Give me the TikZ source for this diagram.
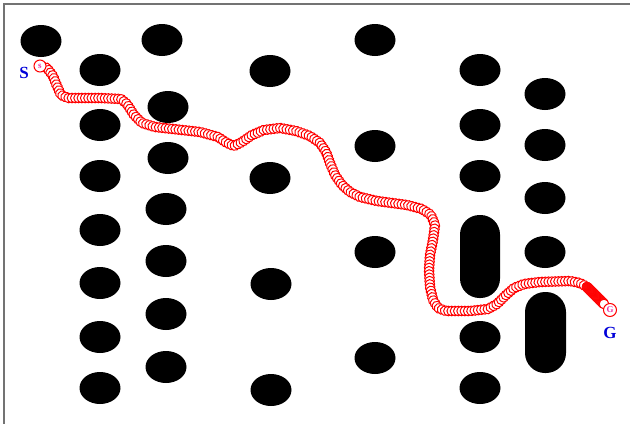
\documentclass[tikz,border=0pt]{standalone}
\usepackage{fontspec}
\setmainfont{Liberation Serif}
\usetikzlibrary{decorations.markings}
\begin{document}
\begin{tikzpicture}[x=1pt,y=-1pt,
  obst/.style={fill=black},
  ring/.style={draw=red, fill=white, line width=1pt},
  trail/.style={postaction={decorate}, decoration={markings, mark=between positions 0 and 1 step #1 with {\filldraw[ring] (0,0) circle (4.8pt);}}},
  lbl/.style={text=blue!85!black, font=\bfseries\fontsize{17}{17}\selectfont, inner sep=0pt},
  tag/.style={text=magenta!80!white, font=\bfseries\fontsize{9}{9}\selectfont, inner sep=0pt}]
\useasboundingbox (0,0) rectangle (630,424);
\fill[white] (0,0) rectangle (630,424);
\draw[gray!90!black, line width=1.5pt] (630,4) -- (4,4) -- (4,424);
% obstacles
\foreach \x/\y in {41/41,
  100/70,100/125,100/176,100/230,100/283,100/337,100/388,
  162/40,168/107,168/158,166/209,166/261,166/314,166/367,
  270/71,270/178,271/284,271/390,
  375/40,375/146,375/252,375/358,
  480/70,480/125,480/176,480/337,480/388,
  545/94,545/145,545/198,545/252}
  \fill[obst] (\x,\y) ellipse [x radius=20.5pt, y radius=16pt];
\fill[obst, rounded corners=19.5pt] (460,215) rectangle (500,298);
\fill[obst, rounded corners=20pt] (525,292) rectangle (566,373);
% path
\coordinate (start) at (40,66);
\coordinate (goal) at (610,310);
\path[trail=3.3pt] (start) -- (47,68) -- (53,76) -- (57,86) -- (61,95) -- (68,98)
  -- (100,98) -- (121,99) -- (127,104) -- (134,115) -- (142,123) -- (155,127)
  -- (200,132) -- (218,137) -- (227,143) -- (234,146) -- (242,142) -- (252,135)
  -- (264,130) -- (280,128) -- (296,131) -- (310,136) -- (320,143) -- (326,152)
  -- (330,163) -- (335,175) -- (342,185) -- (350,192) -- (360,197) -- (377,201)
  -- (407,205) -- (422,209) -- (431,215) -- (435,225) -- (433,240) -- (430,255)
  -- (429,270) -- (430,287) -- (433,300) -- (438,308) -- (446,311) -- (470,311)
  -- (488,309) -- (497,304) -- (506,295) -- (514,288) -- (524,284) -- (540,282)
  -- (570,281) -- (580,283) -- (587,287);
\path[trail=0.5pt] (587,287) -- (604,304);
\filldraw[ring] (start) circle (6pt);
\filldraw[ring] (goal) circle (6.5pt);
\node[tag] (s) at (start) {s};
\node[tag] (g) at (goal) {G};
\node[lbl] (S) at (24,73) {S};
\node[lbl] (G) at (610,333) {G};
\end{tikzpicture}
\end{document}
